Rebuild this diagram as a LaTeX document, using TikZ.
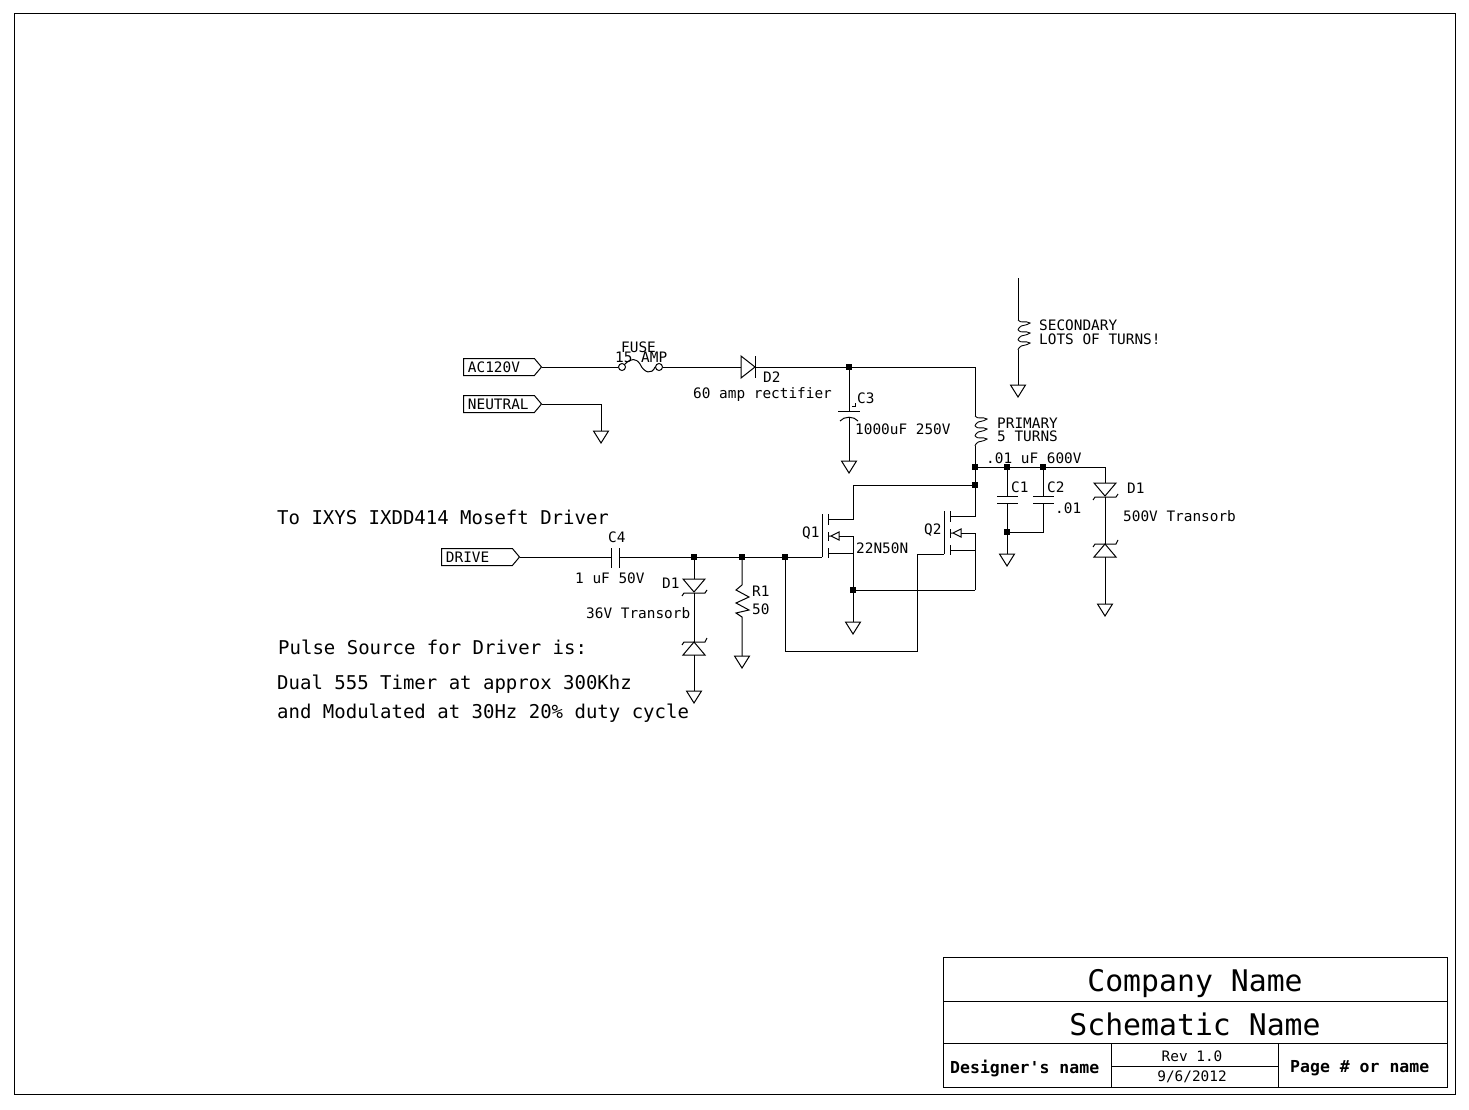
\documentclass[tikz,border=0pt]{standalone}
\usepackage{fontspec}
\setmainfont{DejaVu Sans Mono}
\usetikzlibrary{shapes.symbols}
\tikzstyle{wire} = [line width=1pt]
\tikzstyle{junction} = [
  rectangle,
  fill=black,
  inner sep=0pt,
  minimum size=6pt
]
\tikzstyle{lbl} = [anchor=west, inner sep=0pt, font=\fontsize{14.4}{14.4}\selectfont]
\tikzstyle{notelbl} = [anchor=west, inner sep=0pt, font=\fontsize{19}{19}\selectfont]
\tikzstyle{titlelbl} = [inner sep=0pt, font=\fontsize{29.8}{30}\selectfont]
\tikzstyle{smalltitle} = [inner sep=0pt, font=\fontsize{14.4}{14.4}\selectfont]
\tikzstyle{boldtitle} = [anchor=west, inner sep=0pt, font=\fontsize{16.5}{16.5}\selectfont\bfseries]
\tikzstyle{port} = [
  draw=black,
  line width=1pt,
  signal,
  signal to=east,
  signal pointer angle=100,
  inner sep=0pt,
  anchor=west,
  minimum width=78pt,
  text width=62pt,
  minimum height=17pt,
  align=left,
  font=\fontsize{14.4}{14.4}\selectfont
]
\tikzset{
  gnd/.pic={\draw [wire] (-7.5,0) -- (7.5,0) -- (0,12) -- cycle;},
  coil/.pic={
    \foreach \k in {0,10,20} {
      \draw [line width=0.9pt] (0,\k) .. controls (3,\k+4) and (7,\k) .. (12,\k+3)
        .. controls (8,\k+6) and (3,\k+5) .. (2,\k+7)
        .. controls (1,\k+8) and (0,\k+9) .. (0,\k+10);
    }
  },
  tvsdown/.pic={
    \draw [wire] (-11,0) -- (11,0) -- (0,13) -- cycle;
    \draw [wire] (-12,17) -- (-10,14) -- (11,14) -- (13,11);
  },
  tvsup/.pic={
    \draw [wire] (-11,13) -- (11,13) -- (0,0) -- cycle;
    \draw [wire] (-12,3) -- (-10,0) -- (11,0) -- (13,-4);
  },
  mosfet/.pic={
    \draw [wire] (0,0) -- (0,43);
    \draw [wire] (6,0) -- (6,11) (6,18) -- (6,27) (6,34) -- (6,44);
    \draw [wire] (6,22) -- (9,22) -- (17,18) -- (17,26) -- (9,22);
    \coordinate (-gate) at (0,43);
    \coordinate (-drain) at (6,5);
    \coordinate (-body) at (17,22);
    \coordinate (-source) at (6,39);
  }
}

\begin{document}
\begin{tikzpicture}[x=1pt, y=-1pt]
    \useasboundingbox (0,0) rectangle (1469,1110);

    % Frame and title block
    \draw [wire] (14,14) rectangle (1455,1094);
    \draw [wire] (943,957) rectangle (1447,1087);
    \draw [wire] (943,1001) -- (1447,1001);
    \draw [wire] (943,1043) -- (1447,1043);
    \draw [wire] (1111,1043) -- (1111,1087);
    \draw [wire] (1278,1043) -- (1278,1087);
    \draw [wire] (1111,1066) -- (1278,1066);
    \node (company) [titlelbl] at (1195,984) {Company Name};
    \node (schematic) [titlelbl] at (1195,1024) {Schematic Name};
    \node (designer) [boldtitle] at (950,1068) {Designer\textquotesingle s name};
    \node (rev) [smalltitle] at (1192,1056) {Rev 1.0};
    \node (date) [smalltitle] at (1192,1077) {9/6/2012};
    \node (pagename) [boldtitle] at (1290,1068) {Page \# or name};

    % Ports
    \node (ac) [port] at (463,367) {AC120V};
    \node (neutral) [port] at (463,404) {NEUTRAL};
    \node (drive) [port] at (441,557) {DRIVE};

    % Notes
    \node (note1) [notelbl] at (277,517) {To IXYS IXDD414 Moseft Driver};
    \node (note2) [notelbl] at (278,647) {Pulse Source for Driver is:};
    \node (note3) [notelbl] at (277,684) {Dual 555 Timer at approx 300Khz};
    \node (note4) [notelbl] at (277,713) {and Modulated at 30Hz 20\% duty cycle};

    % Junctions
    \node (jc3) [junction] at (849,367) {};
    \node (jpri) [junction] at (975,467) {};
    \node (jdrain) [junction] at (975,485) {};
    \node (jc1) [junction] at (1007,467) {};
    \node (jc2) [junction] at (1043,467) {};
    \node (jc1b) [junction] at (1007,532) {};
    \node (jtvs) [junction] at (694,557) {};
    \node (jr1) [junction] at (742,557) {};
    \node (jgate) [junction] at (785,557) {};
    \node (jsrc) [junction] at (853,590) {};

    % Fuse
    \node (fusel) [circle, draw, wire, inner sep=0pt, minimum size=7pt] at (622,367) {};
    \node (fuser) [circle, draw, wire, inner sep=0pt, minimum size=7pt] at (659,367) {};
    \draw [wire] (fusel.north east) .. controls (631,358) and (636,358) .. (640,364)
      .. controls (644,373) and (652,375) .. (fuser.west);
    \node (fuselbl) [lbl] at (621,347) {FUSE};
    \node (amplbl) [lbl] at (615,357) {15 AMP};
    \draw [wire] (ac.east) -- (fusel);

    % D2 rectifier
    \coordinate (d2a) at (741,367);
    \coordinate (d2k) at (755,367);
    \draw [wire] (741,356) -- (755,367) -- (741,378) -- cycle;
    \draw [wire] (755,356) -- (755,378);
    \draw [wire] (fuser) -- (d2a);
    \draw [wire] (d2k) -- (jc3);
    \node (d2lbl) [lbl] at (763,377) {D2};
    \node (d2val) [lbl] at (693,395) {60 amp rectifier};

    % C3
    \coordinate (c3t) at (849,411);
    \coordinate (c3b) at (849,417);
    \coordinate (g3) at (849,461);
    \draw [wire] (838,411) -- (860,411);
    \draw [wire] (840,421) .. controls (844,416) and (854,416) .. (858,421);
    \draw [wire] (852,406) -- (855,406) -- (855,403);
    \draw [wire] (jc3) -- (c3t);
    \draw [wire] (c3b) -- (g3);
    \pic at (g3) {gnd};
    \node (c3lbl) [lbl] at (857,398) {C3};
    \node (c3val) [lbl] at (855,429) {1000uF 250V};

    % Neutral
    \coordinate (g1) at (601,431);
    \draw [wire] (neutral.east) -| (g1);
    \pic at (g1) {gnd};

    % Primary
    \coordinate (prit) at (975,416);
    \coordinate (prib) at (975,446);
    \draw [wire] (jc3) -| (prit);
    \pic at (prit) {coil};
    \draw [wire] (prib) -- (jpri);
    \draw [wire] (jpri) -- (jdrain);
    \node (prilbl) [lbl] at (997,423) {PRIMARY};
    \node (prilbl2) [lbl] at (997,436) {5 TURNS};
    \node (c0val) [lbl] at (986,458) {.01 uF 600V};

    % Secondary
    \coordinate (sect) at (1018,278);
    \coordinate (seca) at (1018,320);
    \coordinate (secb) at (1018,350);
    \coordinate (g6) at (1018,385);
    \draw [wire] (sect) -- (seca);
    \pic at (seca) {coil};
    \draw [wire] (secb) -- (g6);
    \pic at (g6) {gnd};
    \node (seclbl) [lbl] at (1039,325) {SECONDARY};
    \node (seclbl2) [lbl] at (1039,339) {LOTS OF TURNS!};

    % C1, C2
    \coordinate (c1t) at (1007,496);
    \coordinate (c1b) at (1007,503);
    \coordinate (c2t) at (1043,496);
    \coordinate (c2b) at (1043,503);
    \coordinate (g4) at (1007,554);
    \draw [wire] (997,496) -- (1018,496) (997,503) -- (1018,503);
    \draw [wire] (1033,496) -- (1054,496) (1033,503) -- (1054,503);
    \draw [wire] (jpri) -- (jc1);
    \draw [wire] (jc1) -- (jc2);
    \draw [wire] (jc1) -- (c1t);
    \draw [wire] (jc2) -- (c2t);
    \draw [wire] (c1b) -- (jc1b);
    \draw [wire] (c2b) |- (jc1b);
    \draw [wire] (jc1b) -- (g4);
    \pic at (g4) {gnd};
    \node (c1lbl) [lbl] at (1011,487) {C1};
    \node (c2lbl) [lbl] at (1047,487) {C2};
    \node (c2val) [lbl] at (1055,508) {.01};

    % 500V transorb
    \coordinate (tv1t) at (1105,483);
    \coordinate (tv1b) at (1105,497);
    \coordinate (tv2t) at (1105,544);
    \coordinate (tv2b) at (1105,557);
    \coordinate (g5) at (1105,604);
    \draw [wire] (jc2) -| (tv1t);
    \pic at (tv1t) {tvsdown};
    \draw [wire] (tv1b) -- (tv2t);
    \pic at (tv2t) {tvsup};
    \draw [wire] (tv2b) -- (g5);
    \pic at (g5) {gnd};
    \node (d1lbl) [lbl] at (1127,488) {D1};
    \node (d1val) [lbl] at (1123,516) {500V Transorb};

    % Drive line
    \coordinate (c4l) at (611,557);
    \coordinate (c4r) at (619,557);
    \draw [wire] (611,548) -- (611,568) (619,548) -- (619,568);
    \draw [wire] (drive.east) -- (c4l);
    \draw [wire] (c4r) -- (jtvs);
    \draw [wire] (jtvs) -- (jr1);
    \draw [wire] (jr1) -- (jgate);
    \node (c4lbl) [lbl] at (608,537) {C4};
    \node (c4val) [lbl] at (575,578) {1 uF 50V};

    % 36V transorb
    \coordinate (tv3t) at (694,579);
    \coordinate (tv3b) at (694,593);
    \coordinate (tv4t) at (694,642);
    \coordinate (tv4b) at (694,655);
    \coordinate (g7) at (694,691);
    \draw [wire] (jtvs) -- (tv3t);
    \pic at (tv3t) {tvsdown};
    \draw [wire] (tv3b) -- (tv4t);
    \pic at (tv4t) {tvsup};
    \draw [wire] (tv4b) -- (g7);
    \pic at (g7) {gnd};
    \node (d3lbl) [lbl] at (662,583) {D1};
    \node (d3val) [lbl] at (586,613) {36V Transorb};

    % R1
    \coordinate (r1t) at (742,585);
    \coordinate (r1b) at (742,617);
    \coordinate (g8) at (742,656);
    \draw [wire] (jr1) -- (r1t) -- (736,590) -- (749,597) -- (736,603) -- (749,610) -- (736,613) -- (r1b) -- (g8);
    \pic at (g8) {gnd};
    \node (r1lbl) [lbl] at (752,591) {R1};
    \node (r1val) [lbl] at (752,609) {50};

    % MOSFETs
    \pic (q1) at (822,514) {mosfet};
    \pic (q2) at (944,511) {mosfet};
    \coordinate (q1top) at (853,485);
    \coordinate (q2sr) at (975,590);
    \coordinate (loopbr) at (917,651);
    \coordinate (g2) at (853,622);
    \draw [wire] (jgate) -- (q1-gate);
    \draw [wire] (q2-gate) -| (loopbr) -| (jgate);
    \draw [wire] (q1-drain) -| (q1top) -- (jdrain);
    \draw [wire] (q2-drain) -| (jdrain);
    \draw [wire] (q1-body) -| (jsrc);
    \draw [wire] (q1-source) -| (jsrc);
    \draw [wire] (q2-body) -| (q2sr);
    \draw [wire] (q2-source) -| (q2sr);
    \draw [wire] (q2sr) -- (jsrc);
    \draw [wire] (jsrc) -- (g2);
    \pic at (g2) {gnd};
    \node (q1lbl) [lbl] at (802,533) {Q1};
    \node (q2lbl) [lbl] at (924,530) {Q2};
    \node (q1val) [lbl] at (856,548) {22N50N};

\end{tikzpicture}
\end{document}
